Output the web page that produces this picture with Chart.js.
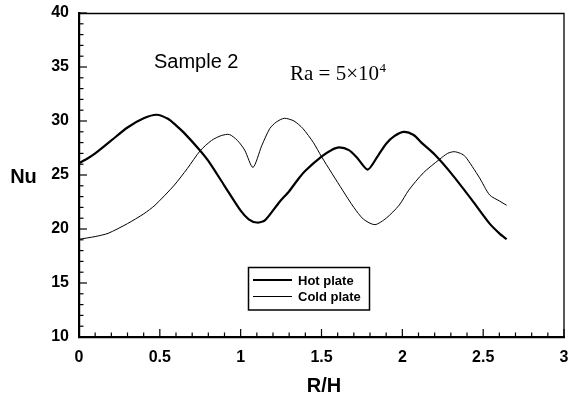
<!DOCTYPE html>
<html>
<head>
<meta charset="utf-8">
<script src="https://cdn.jsdelivr.net/npm/chart.js@4.4.0/dist/chart.umd.min.js"></script>
<style>
  html, body { margin: 0; padding: 0; background: #fff; }
  #wrap { width: 568px; height: 396px; }
</style>
</head>
<body>
<div id="wrap"><canvas id="c" width="568" height="396"></canvas></div>
<script>
// valores (R/H x Nu)
var rhHot  = [0, 0.05, 0.1, 0.2, 0.3, 0.4, 0.48, 0.55, 0.6, 0.65, 0.75, 0.8, 0.9, 1.0, 1.05, 1.1, 1.15, 1.24, 1.3, 1.36, 1.4, 1.5, 1.56, 1.61, 1.67, 1.72, 1.786, 1.85, 1.9, 1.95, 2.01, 2.07, 2.125, 2.2, 2.3, 2.43, 2.54, 2.6, 2.645];
var nuHot  = [26.1, 26.5, 27.0, 28.2, 29.4, 30.25, 30.58, 30.2, 29.6, 28.9, 27.25, 26.3, 24.0, 21.7, 20.9, 20.6, 20.8, 22.5, 23.5, 24.7, 25.4, 26.7, 27.3, 27.55, 27.3, 26.6, 25.5, 26.8, 27.9, 28.6, 29.0, 28.7, 27.9, 26.9, 25.2, 22.7, 20.5, 19.6, 19.05];

var rhCold = [0, 0.1, 0.18, 0.3, 0.4, 0.47, 0.59, 0.67, 0.75, 0.82, 0.88, 0.93, 0.98, 1.025, 1.076, 1.13, 1.18, 1.22, 1.27, 1.33, 1.385, 1.45, 1.5, 1.63, 1.7, 1.76, 1.83, 1.9, 1.98, 2.04, 2.13, 2.23, 2.28, 2.32, 2.36, 2.39, 2.475, 2.54, 2.6, 2.645];
var nuCold = [19.05, 19.3, 19.6, 20.5, 21.4, 22.2, 24.07, 25.6, 27.25, 28.2, 28.65, 28.75, 28.2, 27.3, 25.7, 27.7, 29.3, 29.9, 30.25, 30.0, 29.3, 28.0, 26.7, 23.6, 22.0, 20.9, 20.4, 21.0, 22.2, 23.6, 25.2, 26.45, 27.0, 27.16, 27.0, 26.7, 24.8, 23.15, 22.6, 22.2];

var xTicks = [0, 0.5, 1, 1.5, 2, 2.5, 3];
var yTicks = [10, 15, 20, 25, 30, 35, 40];
var serieNomes = ['Hot plate', 'Cold plate'];

function pares(xs, ys) {
  return xs.map(function(x, i) { return { x: x, y: ys[i] }; });
}

var moldura = {
  id: 'moldura',
  afterDraw: function(chart) {
    var ctx = chart.ctx, a = chart.chartArea;
    var sx = chart.scales.x, sy = chart.scales.y;
    ctx.save();
    ctx.strokeStyle = '#000';
    // topo e direita
    ctx.lineWidth = 1.3;
    ctx.beginPath();
    ctx.moveTo(a.left, a.top + 0.5); ctx.lineTo(a.right, a.top + 0.5);
    ctx.lineTo(a.right, a.bottom);
    ctx.stroke();
    // ticks para dentro
    ctx.lineWidth = 1.2;
    var i, v, p;
    for (i = 0; i <= 30; i++) {
      v = i / 10; p = sx.getPixelForValue(v);
      var len = (i % 5 === 0) ? 8 : 4.5;
      ctx.beginPath(); ctx.moveTo(p, a.bottom); ctx.lineTo(p, a.bottom - len); ctx.stroke();
    }
    for (i = 10; i <= 40; i++) {
      p = sy.getPixelForValue(i);
      var len2 = (i % 5 === 0) ? 8 : 4.5;
      ctx.beginPath(); ctx.moveTo(a.left, p); ctx.lineTo(a.left + len2, p); ctx.stroke();
    }
    // títulos dos eixos
    ctx.fillStyle = '#000';
    ctx.font = 'bold 20px "Liberation Sans", Arial, sans-serif';
    ctx.textAlign = 'center'; ctx.textBaseline = 'alphabetic';
    ctx.fillText('Nu', 23.5, 183);
    ctx.fillText('R/H', 324, 392);
    // anotações
    ctx.textAlign = 'left';
    ctx.font = '20px "Liberation Sans", Arial, sans-serif';
    ctx.fillText('Sample 2', 154, 68);
    ctx.font = '21px "Liberation Serif", "Times New Roman", serif';
    var t = 'Ra = 5\u00d710';
    ctx.fillText(t, 290, 80);
    var w = ctx.measureText(t).width;
    ctx.font = '13px "Liberation Serif", "Times New Roman", serif';
    ctx.fillText('4', 290 + w + 0.5, 72);
    // legenda
    ctx.lineWidth = 1.5;
    ctx.strokeRect(248.5, 267.5, 121, 42.5);
    var ds = chart.data.datasets;
    var ly = [280, 296.5];
    ctx.font = 'bold 13px "Liberation Sans", Arial, sans-serif';
    ds.forEach(function(d, k) {
      ctx.lineWidth = d.borderWidth;
      ctx.beginPath(); ctx.moveTo(253, ly[k]); ctx.lineTo(292, ly[k]); ctx.stroke();
      ctx.fillText(d.label, 298, ly[k] + 4.5);
    });
    ctx.restore();
  }
};

new Chart(document.getElementById('c'), {
  type: 'line',
  data: {
    datasets: [
      { label: serieNomes[0], data: pares(rhHot, nuHot), borderColor: '#000', borderWidth: 2.2, pointRadius: 0, tension: 0.25, fill: false },
      { label: serieNomes[1], data: pares(rhCold, nuCold), borderColor: '#000', borderWidth: 1, pointRadius: 0, tension: 0.25, fill: false }
    ]
  },
  options: {
    responsive: false,
    animation: false,
    devicePixelRatio: 1,
    layout: { padding: { left: 0, right: 4, top: 13, bottom: 0 } },
    plugins: { legend: { display: false }, tooltip: { enabled: false } },
    scales: {
      x: {
        type: 'linear', min: 0, max: 3,
        afterFit: function(s) { s.height = 59; s.paddingLeft = 0; s.paddingRight = 0; },
        afterBuildTicks: function(s) { s.ticks = xTicks.map(function(v) { return { value: v }; }); },
        grid: { display: false, drawTicks: false },
        border: { display: true, color: '#000', width: 2.2 },
        ticks: { padding: 11, color: '#000', font: { family: '"Liberation Sans", Arial, sans-serif', size: 16, weight: 'bold' },
                 maxRotation: 0, callback: function(v) { return String(Math.round(v * 10) / 10); } }
      },
      y: {
        type: 'linear', min: 10, max: 40,
        afterFit: function(s) { s.width = 79; s.paddingTop = 0; s.paddingBottom = 0; },
        afterBuildTicks: function(s) { s.ticks = yTicks.map(function(v) { return { value: v }; }); },
        grid: { display: false, drawTicks: false },
        border: { display: true, color: '#000', width: 2.2 },
        ticks: { padding: 10, color: '#000', font: { family: '"Liberation Sans", Arial, sans-serif', size: 16, weight: 'bold' },
                 callback: function(v) { return String(v); } }
      }
    }
  },
  plugins: [moldura]
});
</script>
</body>
</html>
